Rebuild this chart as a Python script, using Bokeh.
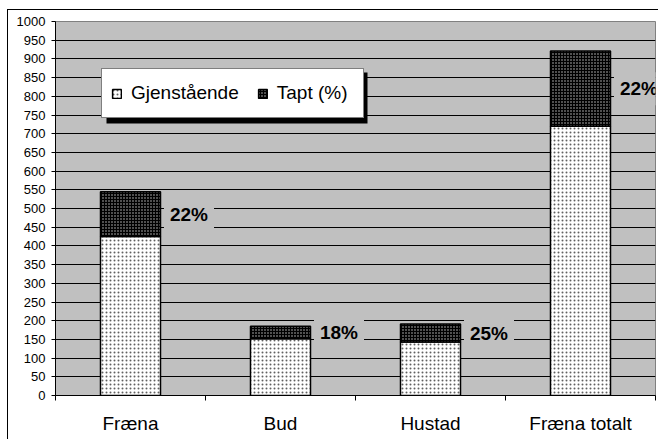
import numpy as np
from bokeh.plotting import figure
from bokeh.models import (Range1d, FixedTicker, Legend, LegendItem, Label, BoxAnnotation)
from bokeh.embed import file_html
from bokeh.resources import INLINE

categories = ["Fræna", "Bud", "Hustad", "Fræna totalt"]
gjenstaende = [425, 152, 143, 720]
tapt = [120, 33, 48, 201]
pct_labels = ["22%", "18%", "25%", "22%"]
y_ticks = list(range(0, 1001, 50))

FONT = "Liberation Sans"

idx = np.arange(len(categories))
centers = idx + 0.5
g = np.array(gjenstaende, dtype=float)
t = np.array(tapt, dtype=float)

# canvas starts at (8, 10): 7px / 9px margin + 1px border
OX, OY = 8, 10

p = figure(width=651, height=430, output_backend="svg", toolbar_location=None,
           x_range=Range1d(0, len(categories)), y_range=Range1d(0, 1000),
           min_border_left=55 - OX, min_border_right=4, min_border_top=21 - OY,
           min_border_bottom=45)
p.styles = {"border-left": "1px solid black", "border-top": "1px solid black",
            "margin-left": "7px", "margin-top": "9px"}
p.background_fill_color = "#c0c0c0"
p.border_fill_color = "white"
p.outline_line_color = "#808080"

r1 = p.vbar(x=centers, width=0.4, bottom=0, top=g, fill_color="white",
            hatch_pattern="dot", hatch_color="#606060", hatch_scale=4, hatch_weight=1,
            line_color="black", line_width=1.5)
r2 = p.vbar(x=centers, width=0.4, bottom=g, top=g + t, fill_color="black",
            hatch_pattern="dot", hatch_color="#c8c8c8", hatch_scale=3, hatch_weight=1,
            line_color="black", line_width=1.5)

# grid
p.xgrid.visible = False
p.ygrid.ticker = FixedTicker(ticks=y_ticks)
p.ygrid.grid_line_color = "black"
p.ygrid.grid_line_width = 1

# y axis
yax = p.yaxis[0]
yax.ticker = FixedTicker(ticks=y_ticks)
yax.axis_line_color = "black"
yax.major_tick_line_color = "black"
yax.major_tick_out = 4
yax.major_tick_in = 0
yax.minor_tick_line_color = None
yax.major_label_text_font = FONT
yax.major_label_text_font_size = "13px"
yax.major_label_text_color = "black"
yax.major_label_standoff = 6

# x axis
xax = p.xaxis[0]
xax.ticker = FixedTicker(ticks=list(centers), minor_ticks=list(range(len(categories) + 1)))
xax.major_label_overrides = {float(c): cat for c, cat in zip(centers, categories)}
xax.axis_line_color = "black"
xax.major_tick_line_color = None
xax.major_tick_out = 0
xax.minor_tick_line_color = "black"
xax.minor_tick_out = 5
xax.minor_tick_in = 0
xax.major_label_text_font = FONT
xax.major_label_text_font_size = "19px"
xax.major_label_text_color = "black"
xax.major_label_standoff = 12

# percent labels
for c, gv, tv, lab in zip(centers, g, t, pct_labels):
    p.add_layout(Label(x=c + 0.39, y=gv + tv / 2, text=lab, text_align="center",
                       text_baseline="middle", text_font=FONT, text_font_style="bold",
                       text_font_size="19px", text_color="black",
                       background_fill_color="#c0c0c0", padding=6))

# legend shadow
p.add_layout(BoxAnnotation(left=105 - OX, right=366 - OX, top=71 - OY, bottom=122 - OY,
                           left_units="canvas", right_units="canvas",
                           top_units="canvas", bottom_units="canvas",
                           fill_color="black", fill_alpha=1, line_color=None))

legend = Legend(items=[LegendItem(label="Gjenstående", renderers=[r1]),
                       LegendItem(label="Tapt (%)", renderers=[r2])],
                orientation="horizontal", location=(46, 277))
legend.label_text_font = FONT
legend.label_text_font_size = "19px"
legend.label_text_color = "black"
legend.glyph_width = 11
legend.glyph_height = 11
legend.label_standoff = 9
legend.spacing = 18
legend.padding = 9
legend.label_height = 30
legend.label_width = 77
legend.border_line_color = "black"
legend.border_line_width = 1
legend.background_fill_color = "white"
legend.background_fill_alpha = 1
legend.margin = 0
p.add_layout(legend)

open("out.html", "w").write(file_html(p, INLINE))
